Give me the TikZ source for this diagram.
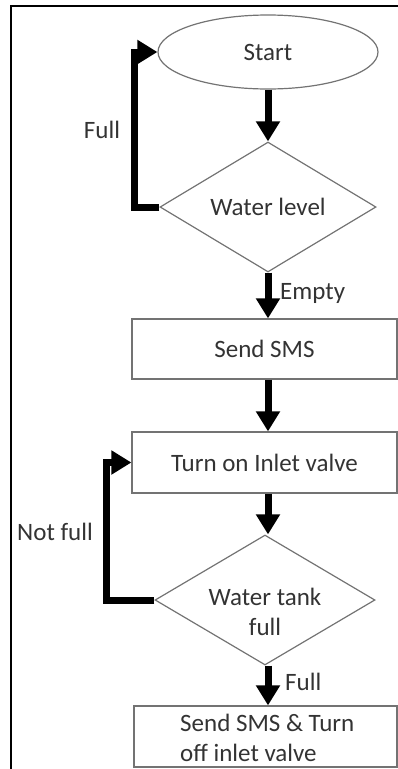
\documentclass[tikz,border=0pt]{standalone}
\usepackage{fontspec}
\setmainfont{Carlito}
\usetikzlibrary{shapes.geometric,arrows.meta}
\tikzset{
  shapeline/.style={draw=black!55, line width=1.2pt, inner sep=0pt},
  lbl/.style={text=black!80, font=\fontsize{25pt}{30pt}\selectfont, inner sep=0pt},
  arr/.style={line width=7pt, -{Triangle[length=20pt,width=23pt]}},
}
\begin{document}
\begin{tikzpicture}[x=1pt,y=-1pt]
\useasboundingbox (0,0) rectangle (398,769);
% frame
\draw[line width=2pt] (11,769) -- (11,6) -- (398,6);
% nodes
\node[shapeline, ellipse, minimum width=220pt, minimum height=74pt, lbl] (start) at (268,52) {Start};
\node[shapeline, diamond, aspect=1.66, minimum width=216pt, minimum height=130pt, lbl] (d1) at (268,207) {Water level};
\node[shapeline, rectangle, minimum width=265pt, minimum height=60pt, lbl] (b1) at (264.5,349) {Send SMS};
\node[shapeline, rectangle, minimum width=265pt, minimum height=61pt, lbl] (b2) at (264.5,462.5) {Turn on Inlet valve};
\node[shapeline, diamond, aspect=1.69, minimum width=220pt, minimum height=130pt, lbl, align=center] (d2) at (265,600) {};
\node[lbl, align=center] (d2text) at (265,612) {Water tank\\full};
\node[shapeline, rectangle, minimum width=263pt, minimum height=61pt] (b3) at (265.5,736.5) {};
\node[lbl, align=left, anchor=west] (b3text) at (180,738) {Send SMS \& Turn\\off inlet valve};
% labels
\node[lbl] (lfull1) at (102,130) {Full};
\node[lbl, anchor=west] (lempty) at (280,293) {Empty};
\node[lbl] (lnotfull) at (55,532) {Not full};
\node[lbl, anchor=west] (lfull2) at (285,682) {Full};
% connectors
\draw[arr] (start.south) -- (d1.north);
\draw[arr] (d1.south) -- (d1.south |- b1.north);
\draw[arr] (b1.south -| d1.south) -- (d1.south |- b2.north);
\draw[arr] (b2.south -| d1.south) -- (d1.south |- d2.north);
\draw[arr] (d2.south -| d1.south) -- (d1.south |- b3.north);
\draw[arr] (d1.west) -- ++(-25,0) |- (start.west);
\draw[arr] (d2.west) -- ++(-48,0) |- (b2.west);
\end{tikzpicture}
\end{document}
